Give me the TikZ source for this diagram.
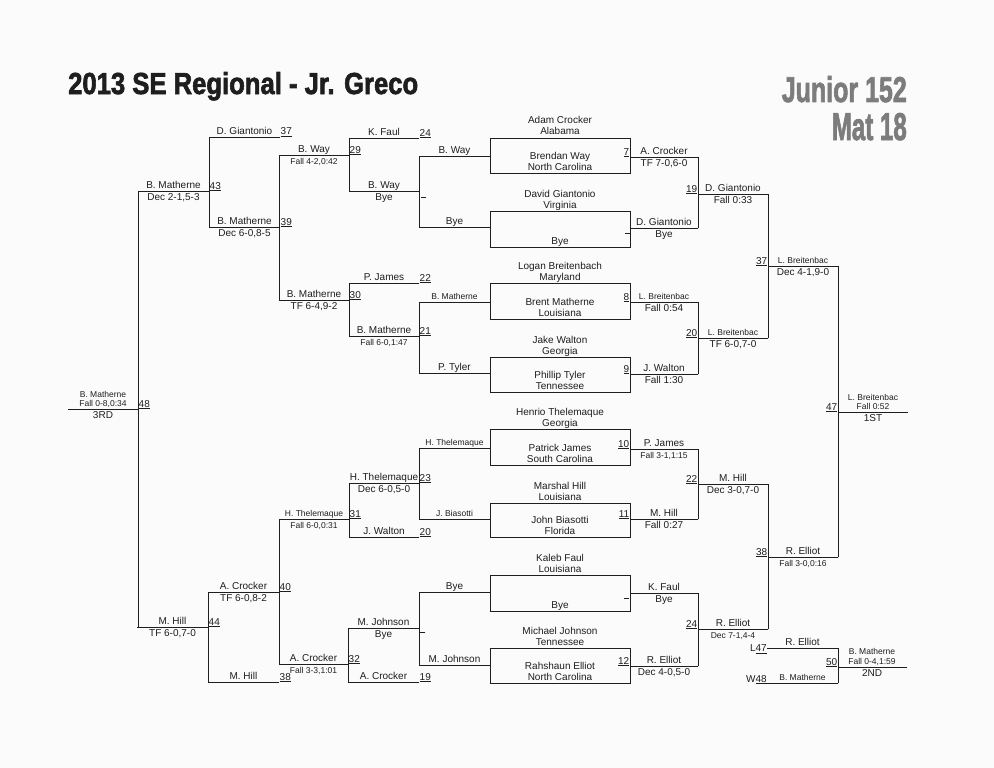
\documentclass[tikz,border=0pt]{standalone}
\usepackage{fontspec}
\setmainfont{Liberation Sans}
\newfontfamily\headfont[FakeBold=2.2]{Liberation Sans Bold}
\usepackage{graphicx}
\usepackage{tikz}

\definecolor{ink}{HTML}{1E1E1E}
\definecolor{hdgray}{HTML}{7C7C7C}
\definecolor{paper}{HTML}{FBFBFB}

\newcommand{\sm}{\fontsize{8.5}{10}\selectfont}

\tikzset{
  bk/.style={draw=ink, line width=0.9pt, line cap=rect},
  lbl/.style={font=\fontsize{10}{12}\selectfont, text=ink, inner sep=0pt, anchor=base},
  num/.style={lbl},
}

% bout line: winner above, result below
\newcommand{\bl}[6]{%
  \draw[bk] (#2,#4) -- (#3,#4);
  \node[lbl] (#1n) at ({(#2+#3)/2},{#4-2.5}) {#5};
  \if\relax\detokenize{#6}\relax\else
    \node[lbl] (#1r) at ({(#2+#3)/2},{#4+9.5}) {#6};\fi}

% first round box: wrestler above top line, wrestler above bottom line
\newcommand{\bx}[7]{%
  \draw[bk] (490,#2) rectangle (630,#3);
  \node[lbl] (#1a) at (560,{#2-14}) {#4};
  \node[lbl] (#1b) at (560,{#2-3}) {#5};
  \if\relax\detokenize{#6}\relax\else
    \node[lbl] (#1c) at (560,{#3-14}) {#6};\fi
  \node[lbl] (#1d) at (560,{#3-3}) {#7};}

% bout numbers, right of a line end / left of a line start
\newcommand{\nr}[4]{\node[num, anchor=base west] (#1) at ({#2+0.5},{#3-2}) {\underline{#4}};}
\newcommand{\nl}[4]{\node[num, anchor=base east] (#1) at ({#2-0.5},{#3-2}) {\underline{#4}};}

\begin{document}
\begin{tikzpicture}[x=1pt,y=-1pt]
    \fill[paper] (0,0) rectangle (994,768);
    \useasboundingbox (0,0) rectangle (994,768);

    % heading
    \node[anchor=base west, inner sep=0pt, text=ink] (title) at (68,94)
        {\resizebox{350pt}{22pt}{\headfont 2013 SE Regional - Jr. Greco}};
    \node[anchor=base east, inner sep=0pt, text=hdgray] (weight) at (907,102)
        {\resizebox{125pt}{26pt}{\headfont Junior 152}};
    \node[anchor=base east, inner sep=0pt, text=hdgray] (mat) at (907,140)
        {\resizebox{75pt}{27pt}{\headfont Mat 18}};

    % first round
    \bx{q1}{138}{173}{Adam Crocker}{Alabama}{Brendan Way}{North Carolina}
    \bx{q2}{211}{247}{David Giantonio}{Virginia}{}{Bye}
    \bx{q3}{283}{319}{Logan Breitenbach}{Maryland}{Brent Matherne}{Louisiana}
    \bx{q4}{357}{392}{Jake Walton}{Georgia}{Phillip Tyler}{Tennessee}
    \bx{q5}{429}{465}{Henrio Thelemaque}{Georgia}{Patrick James}{South Carolina}
    \bx{q6}{503}{537}{Marshal Hill}{Louisiana}{John Biasotti}{Florida}
    \bx{q7}{575}{611}{Kaleb Faul}{Louisiana}{}{Bye}
    \bx{q8}{648}{683}{Michael Johnson}{Tennessee}{Rahshaun Elliot}{North Carolina}
    \nl{w7}{630}{157}{7}
    \nl{w8}{630}{302}{8}
    \nl{w9}{630}{374}{9}
    \nl{w10}{630}{449}{10}
    \nl{w11}{630}{519}{11}
    \nl{w12}{630}{666}{12}
    \draw[bk] (625,233) -- (630,233);
    \draw[bk] (624,598) -- (629,598);

    % consolation, top half
    \bl{c1}{209}{280}{137}{D. Giantonio}{}                    \nr{c37}{280}{137}{37}
    \bl{c2}{138}{209}{191}{B. Matherne}{Dec 2-1,5-3}          \nr{c43}{209}{191}{43}
    \bl{c3}{209}{280}{227}{B. Matherne}{Dec 6-0,8-5}          \nr{c39}{280}{227}{39}
    \bl{c4}{279}{349}{155}{B. Way}{\sm Fall 4-2,0:42}         \nr{c29}{349}{155}{29}
    \bl{c5}{279}{349}{300}{B. Matherne}{TF 6-4,9-2}           \nr{c30}{349}{300}{30}
    \bl{c6}{349}{419}{138}{K. Faul}{}                         \nr{c24}{419}{138}{24}
    \bl{c7}{349}{419}{191}{B. Way}{Bye}
    \bl{c8}{419}{490}{156}{B. Way}{}
    \bl{c9}{419}{490}{227}{Bye}{}
    \bl{c10}{349}{419}{283}{P. James}{}                       \nr{c22}{419}{283}{22}
    \bl{c11}{349}{419}{336}{B. Matherne}{\sm Fall 6-0,1:47}   \nr{c21}{419}{336}{21}
    \bl{c12}{419}{490}{302}{\sm B. Matherne}{}
    \bl{c13}{419}{490}{373}{P. Tyler}{}
    \draw[bk] (421,197) -- (426,197);
    \draw[bk] (209,137) -- (209,227)  (279,155) -- (279,300)
              (349,138) -- (349,191)  (419,156) -- (419,227)
              (349,283) -- (349,336)  (419,302) -- (419,373)
              (138,191) -- (138,627);

    % third place
    \draw[bk] (68,409) -- (138,409);
    \node[lbl] (p3a) at (103,397) {\sm B. Matherne};
    \node[lbl] (p3b) at (103,406.5) {\sm Fall 0-8,0:34};
    \node[lbl] (p3c) at (103,418) {3RD};
    \nr{c48}{138}{409}{48}

    % consolation, bottom half
    \bl{c15}{419}{490}{448}{\sm H. Thelemaque}{}
    \bl{c16}{419}{490}{519}{\sm J. Biasotti}{}
    \bl{c17}{349}{419}{483}{H. Thelemaque}{Dec 6-0,5-0}       \nr{c23}{419}{483}{23}
    \bl{c18}{349}{419}{537}{J. Walton}{}                      \nr{c20}{419}{537}{20}
    \bl{c19}{279}{349}{519}{\sm H. Thelemaque}{\sm Fall 6-0,0:31} \nr{c31}{349}{519}{31}
    \bl{c20}{279}{348}{664}{A. Crocker}{\sm Fall 3-3,1:01}    \nr{c32}{348}{664}{32}
    \bl{c21}{208}{279}{592}{A. Crocker}{TF 6-0,8-2}           \nr{c40}{279}{592}{40}
    \bl{c22}{208}{279}{682}{M. Hill}{}                        \nr{c38}{279}{682}{38}
    \bl{c23}{137}{208}{627}{M. Hill}{TF 6-0,7-0}              \nr{c44}{208}{627}{44}
    \bl{c24}{348}{419}{628}{M. Johnson}{Bye}
    \bl{c25}{348}{419}{682}{A. Crocker}{}                     \nr{c19}{419}{682}{19}
    \bl{c26}{419}{490}{592}{Bye}{}
    \bl{c27}{419}{490}{665}{M. Johnson}{}
    \draw[bk] (420,632) -- (425,632);
    \draw[bk] (419,448) -- (419,519)  (349,483) -- (349,537)
              (279,519) -- (279,664)  (208,592) -- (208,682)
              (348,628) -- (348,682)  (419,592) -- (419,665);

    % championship side
    \bl{w1}{630}{698}{157}{A. Crocker}{TF 7-0,6-0}
    \bl{w2}{630}{698}{228}{D. Giantonio}{Bye}
    \bl{w3}{698}{768}{194}{D. Giantonio}{Fall 0:33}           \nl{w19}{698}{194}{19}
    \bl{w4}{630}{698}{302}{\sm L. Breitenbac}{Fall 0:54}
    \bl{w5}{630}{698}{374}{J. Walton}{Fall 1:30}
    \bl{w6}{698}{768}{338}{\sm L. Breitenbac}{TF 6-0,7-0}     \nl{w20}{698}{338}{20}
    \bl{w13}{768}{838}{266}{\sm L. Breitenbac}{Dec 4-1,9-0}   \nl{w37}{768}{266}{37}
    \bl{w8}{630}{698}{449}{P. James}{\sm Fall 3-1,1:15}
    \bl{w9}{630}{698}{519}{M. Hill}{Fall 0:27}
    \bl{w10}{698}{768}{484}{M. Hill}{Dec 3-0,7-0}             \nl{w22}{698}{484}{22}
    \bl{w11}{630}{698}{593}{K. Faul}{Bye}
    \bl{w14}{630}{698}{666}{R. Elliot}{Dec 4-0,5-0}
    \bl{w15}{698}{768}{629}{R. Elliot}{\sm Dec 7-1,4-4}       \nl{w24}{698}{629}{24}
    \bl{w16}{768}{838}{557}{R. Elliot}{\sm Fall 3-0,0:16}     \nl{w38}{768}{557}{38}
    \draw[bk] (698,157) -- (698,228)  (698,302) -- (698,374)
              (768,194) -- (768,338)  (698,449) -- (698,519)
              (698,593) -- (698,666)  (768,484) -- (768,629)
              (838,266) -- (838,557);

    % first place
    \draw[bk] (838,412) -- (908,412);
    \node[lbl] (p1a) at (873,400) {\sm L. Breitenbac};
    \node[lbl] (p1b) at (873,409.5) {\sm Fall 0:52};
    \node[lbl] (p1c) at (873,421) {1ST};
    \nl{w47}{838}{412}{47}

    % second place
    \bl{s1}{767}{838}{648}{R. Elliot}{}
    \bl{s2}{767}{838}{683}{\sm B. Matherne}{}
    \node[num, anchor=base east] (l47) at (767,651.5) {L\underline{47}};
    \node[num, anchor=base east] (w48) at (767,682) {W\underline{48}};
    \draw[bk] (838,648) -- (838,683);
    \draw[bk] (838,667) -- (907,667);
    \node[lbl] (p2a) at (872,654.5) {\sm B. Matherne};
    \node[lbl] (p2b) at (872,664) {\sm Fall 0-4,1:59};
    \node[lbl] (p2c) at (872,676) {2ND};
    \nl{w50}{838}{667}{50}
\end{tikzpicture}
\end{document}
